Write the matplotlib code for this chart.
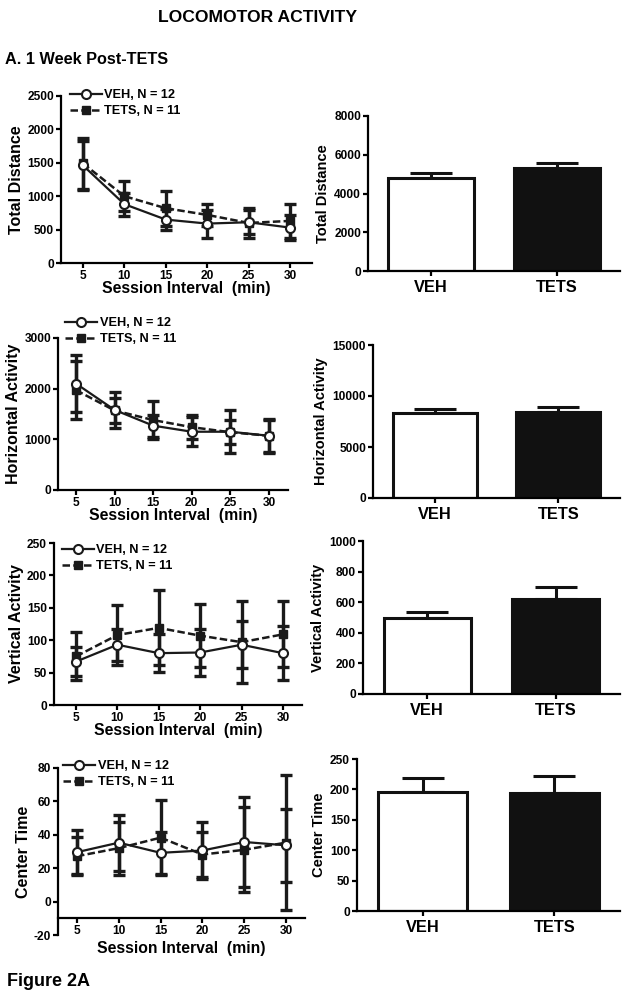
import matplotlib
matplotlib.use("Agg")
import matplotlib.pyplot as plt
import numpy as np

plt.rcParams['font.family'] = ['Liberation Sans', 'DejaVu Sans']
plt.rcParams['font.weight'] = 'bold'
plt.rcParams['axes.labelweight'] = 'bold'
plt.rcParams['axes.unicode_minus'] = False

# ---------------- data ----------------
minutes = [5, 10, 15, 20, 25, 30]
groups = ["VEH", "TETS"]
legend_veh = "VEH, N = 12"
legend_tets = "TETS, N = 11"

dist_veh = [1460, 880, 650, 590, 610, 530]
dist_veh_err = [370, 170, 160, 210, 180, 190]
dist_tets = [1490, 1000, 820, 720, 600, 630]
dist_tets_err = [380, 225, 260, 160, 230, 250]

horiz_veh = [2100, 1580, 1270, 1150, 1150, 1070]
horiz_veh_err = [560, 360, 220, 290, 420, 330]
horiz_tets = [1970, 1570, 1380, 1240, 1140, 1070]
horiz_tets_err = [570, 250, 380, 240, 240, 320]

vert_veh = [67, 93, 80, 81, 93, 80]
vert_veh_err = [22, 25, 29, 36, 36, 42]
vert_tets = [75, 108, 119, 107, 97, 109]
vert_tets_err = [37, 46, 58, 49, 63, 51]

center_veh = [29.6, 35.3, 29.2, 30.6, 35.7, 33.7]
center_veh_err = [13, 16.7, 12.6, 17.2, 27, 22]
center_tets = [27.2, 32, 38.3, 28.2, 31, 35.3]
center_tets_err = [11.5, 15.8, 22.5, 13.7, 25.5, 40.5]

bar_dist = [4780, 5300]
bar_dist_err = [290, 300]
bar_horiz = [8370, 8460]
bar_horiz_err = [390, 490]
bar_vert = [500, 622]
bar_vert_err = [38, 75]
bar_center = [196, 194.5]
bar_center_err = [22, 28]

line_labels = ["Total Distance", "Horizontal Activity", "Vertical Activity", "Center Time"]
xlabel = "Session Interval  (min)"

# ---------------- layout (pixels) ----------------
W, H = 629, 998
fig = plt.figure(figsize=(W / 100, H / 100), dpi=100)


def add_ax(l, r, t, b):
    return fig.add_axes([l / W, 1 - b / H, (r - l) / W, (b - t) / H])


line_specs = [
    dict(box=(61, 312, 96, 263), ylim=(0, 2500), yt=[0, 500, 1000, 1500, 2000, 2500], xlim=(2.34, 32.66),
         data=(dist_veh, dist_veh_err, dist_tets, dist_tets_err), leg=(70, 89), xaxis_at=None, xlpad=-1),
    dict(box=(58, 288, 338, 490), ylim=(0, 3000), yt=[0, 1000, 2000, 3000], xlim=(2.67, 32.46),
         data=(horiz_veh, horiz_veh_err, horiz_tets, horiz_tets_err), leg=(65, 317), xaxis_at=None, xlpad=-1),
    dict(box=(54, 302, 543, 705), ylim=(0, 250), yt=[0, 50, 100, 150, 200, 250], xlim=(2.34, 32.3),
         data=(vert_veh, vert_veh_err, vert_tets, vert_tets_err), leg=(62, 544), xaxis_at=None, xlpad=-1),
    dict(box=(58, 305, 768, 935), ylim=(-20, 80), yt=[-20, 0, 20, 40, 60, 80], xlim=(2.73, 32.27),
         data=(center_veh, center_veh_err, center_tets, center_tets_err), leg=(63, 760), xaxis_at=-10,
         xlpad=3),
]

bar_specs = [
    dict(box=(368, 620, 116, 271), ylim=(0, 8000), yt=[0, 2000, 4000, 6000, 8000],
         data=(bar_dist, bar_dist_err)),
    dict(box=(373, 620, 345, 498), ylim=(0, 15000), yt=[0, 5000, 10000, 15000],
         data=(bar_horiz, bar_horiz_err)),
    dict(box=(363, 620, 541, 694), ylim=(0, 1000), yt=[0, 200, 400, 600, 800, 1000],
         data=(bar_vert, bar_vert_err)),
    dict(box=(357, 620, 759, 911), ylim=(0, 250), yt=[0, 50, 100, 150, 200, 250],
         data=(bar_center, bar_center_err)),
]

TICK_FS = 8.6
SPINE_LW = 1.6

for spec, ylab in zip(line_specs, line_labels):
    ax = add_ax(*spec['box'])
    mv, ev, mt, et = spec['data']
    ax.errorbar(minutes, mt, yerr=et, fmt='none', ecolor='#1a1a1a', elinewidth=2.4,
                capsize=4.5, capthick=2.4, zorder=2)
    ax.errorbar(minutes, mv, yerr=ev, fmt='none', ecolor='#1a1a1a', elinewidth=2.4,
                capsize=4.5, capthick=2.4, zorder=2)
    h_tets, = ax.plot(minutes, mt, linestyle=(0, (3, 1.3)), color='#1a1a1a', lw=1.8,
                      marker='s', markersize=5.5, markerfacecolor='#1a1a1a',
                      markeredgecolor='#1a1a1a', zorder=3, label=legend_tets)
    h_veh, = ax.plot(minutes, mv, linestyle='-', color='#1a1a1a', lw=1.6,
                     marker='o', markersize=6.5, markerfacecolor='white',
                     markeredgecolor='#1a1a1a', markeredgewidth=1.5, zorder=4, label=legend_veh)
    ax.set_xlim(*spec['xlim'])
    ax.set_ylim(*spec['ylim'])
    ax.set_yticks(spec['yt'])
    ax.set_xticks(minutes)
    for s in ['top', 'right']:
        ax.spines[s].set_visible(False)
    for s in ['left', 'bottom']:
        ax.spines[s].set_linewidth(SPINE_LW)
    if spec['xaxis_at'] is not None:
        ax.spines['bottom'].set_position(('data', spec['xaxis_at']))
    ax.tick_params(axis='both', labelsize=TICK_FS, width=SPINE_LW, length=3.5, pad=1.5)
    ax.set_ylabel(ylab, fontsize=11.5, labelpad=2)
    ax.set_xlabel(xlabel, fontsize=11.3, labelpad=spec['xlpad'])
    for t in ax.get_xticklabels() + ax.get_yticklabels():
        t.set_fontweight('bold')
    lx, ly = spec['leg']
    ax.legend(handles=[h_veh, h_tets], loc='upper left',
              bbox_to_anchor=(lx / W, 1 - ly / H), bbox_transform=fig.transFigure,
              frameon=False, fontsize=9.2, handlelength=2.5, handletextpad=0.2,
              labelspacing=0.35, borderpad=0, borderaxespad=0)

for spec, ylab in zip(bar_specs, line_labels):
    ax = add_ax(*spec['box'])
    vals, errs = spec['data']
    x = np.arange(len(groups))
    ax.bar(x, vals, width=0.68, color=['white', '#111111'], edgecolor='#111111',
           linewidth=2.2, zorder=2)
    ax.errorbar(x, vals, yerr=[np.zeros(len(errs)), errs], fmt='none', ecolor='#111111',
                elinewidth=2.2, capsize=15, capthick=2.2, zorder=1)
    ax.set_xlim(-0.5, 1.5)
    ax.set_ylim(*spec['ylim'])
    ax.set_yticks(spec['yt'])
    ax.set_xticks(x)
    ax.set_xticklabels(groups, fontsize=11.8, fontweight='bold')
    for s in ['top', 'right']:
        ax.spines[s].set_visible(False)
    for s in ['left', 'bottom']:
        ax.spines[s].set_linewidth(SPINE_LW)
    ax.tick_params(axis='y', labelsize=TICK_FS, width=SPINE_LW, length=3.5, pad=1.5)
    ax.tick_params(axis='x', width=SPINE_LW, length=3.5, pad=3)
    ax.set_ylabel(ylab, fontsize=10.5, labelpad=3)
    for t in ax.get_yticklabels():
        t.set_fontweight('bold')

fig.text(258 / W, 1 - 18 / H, "LOCOMOTOR ACTIVITY", ha='center', va='center',
         fontsize=12.6, fontweight='bold')
fig.text(5 / W, 1 - 60 / H, "A. 1 Week Post-TETS", ha='left', va='center',
         fontsize=11.7, fontweight='bold')
fig.text(7 / W, 1 - 982 / H, "Figure 2A", ha='left', va='center',
         fontsize=13, fontweight='bold')

fig.savefig("out.png", dpi=100)
